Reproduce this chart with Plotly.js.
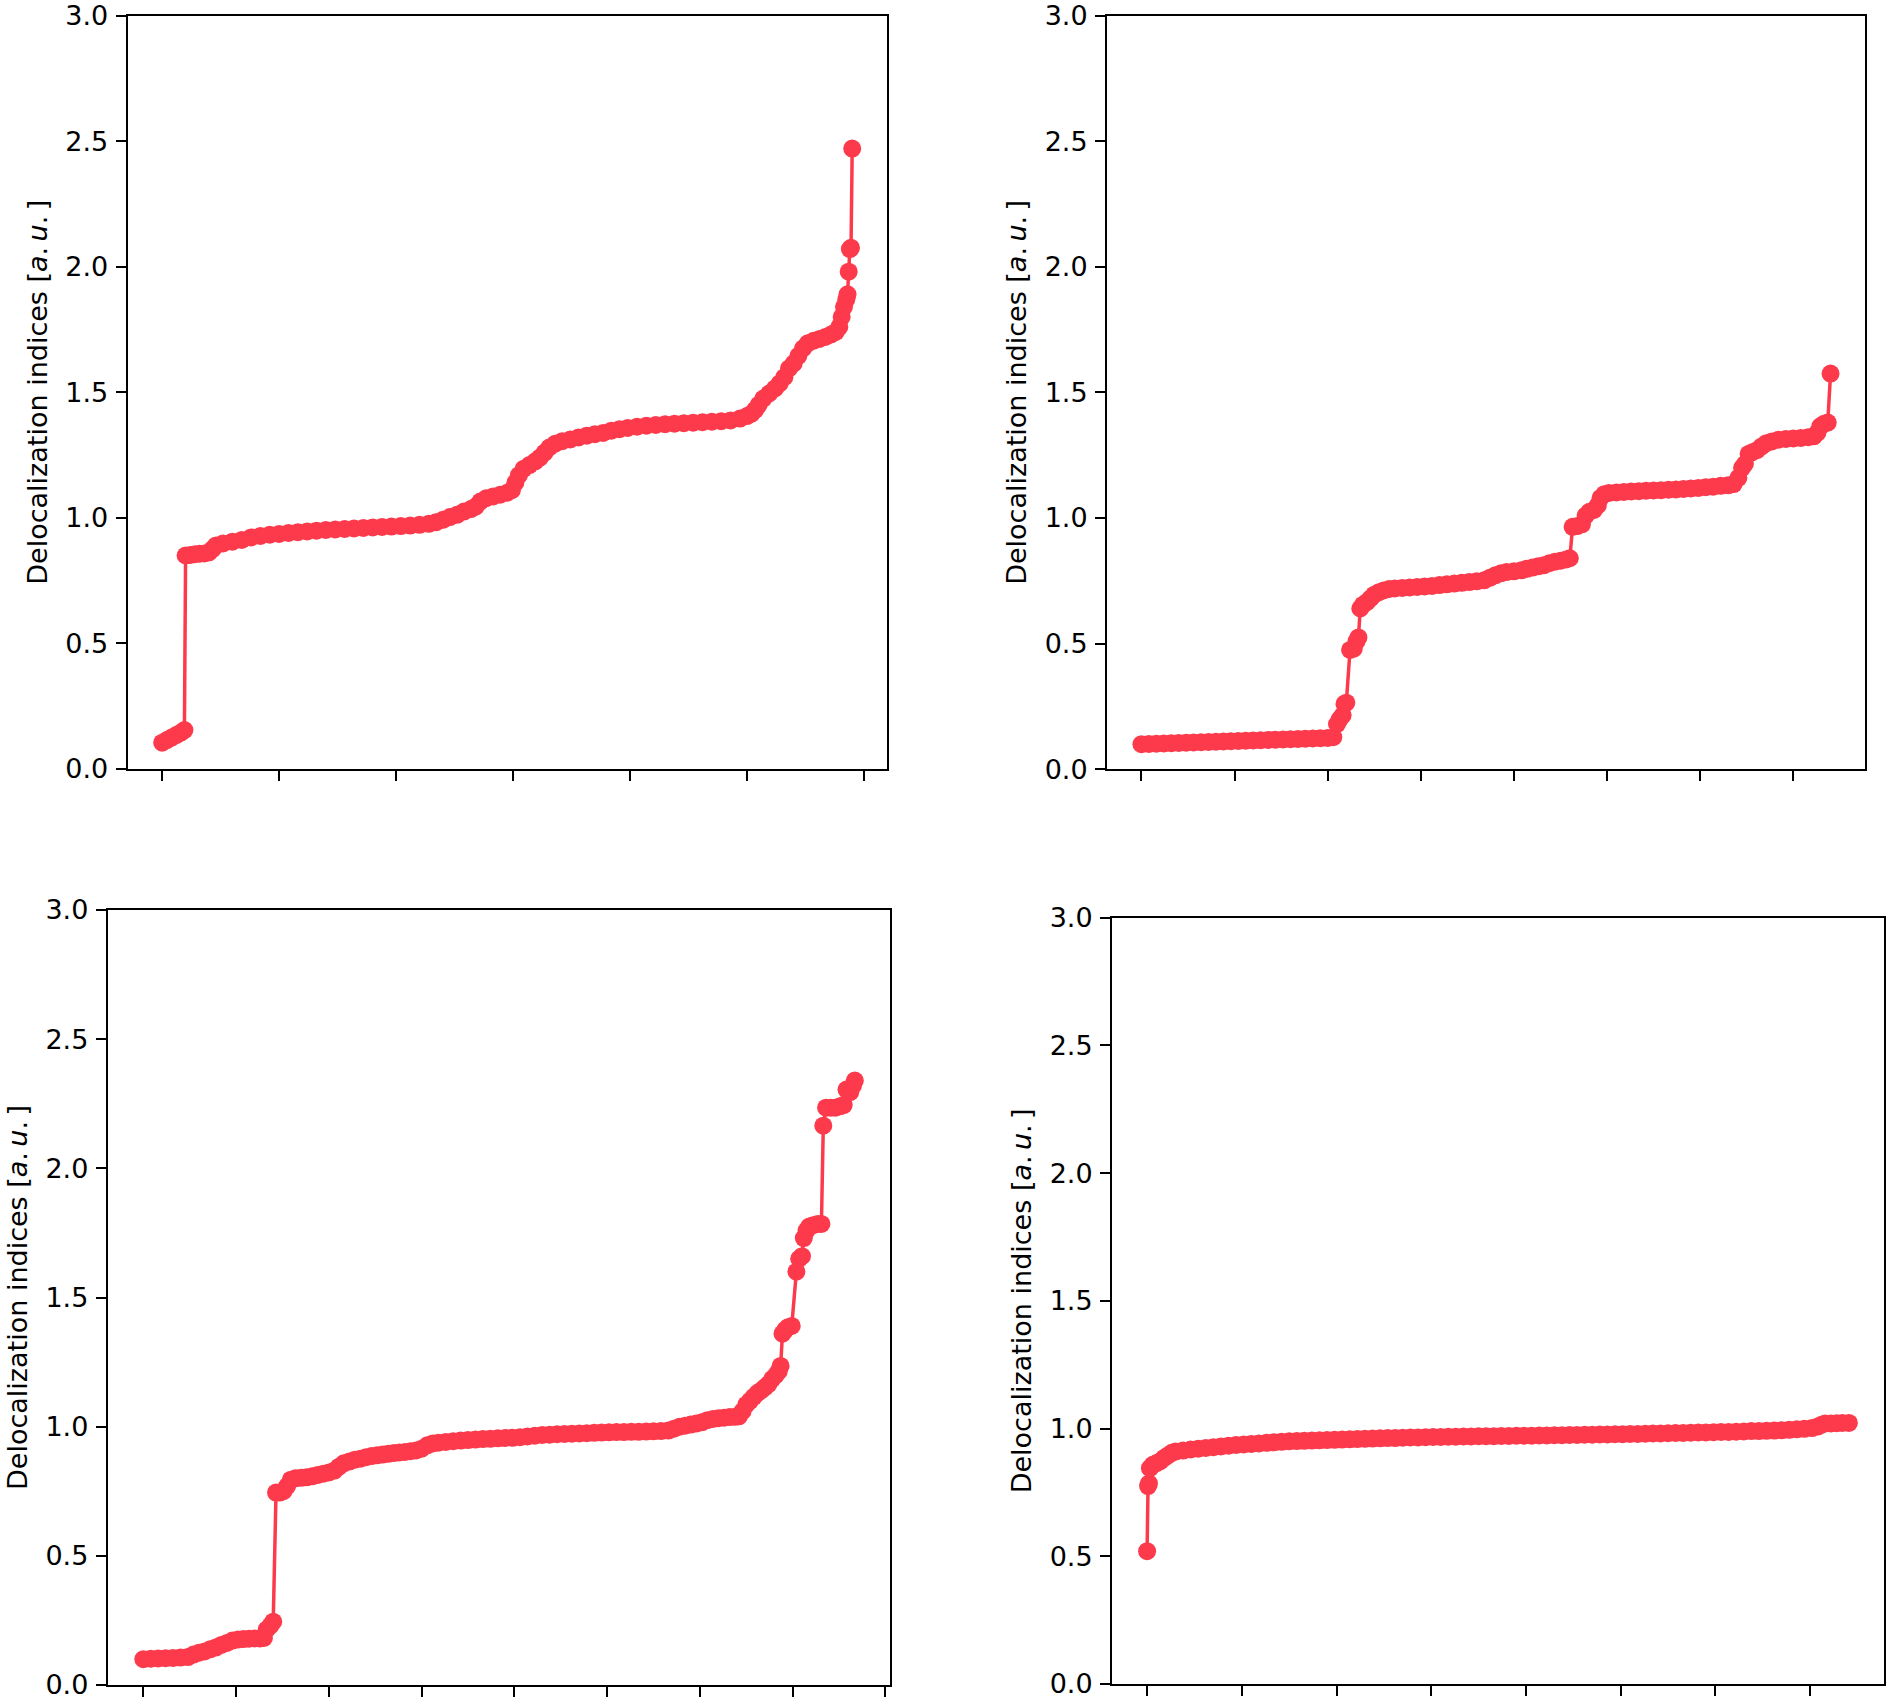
<!DOCTYPE html>
<html>
<head>
<meta charset="utf-8">
<script src="https://cdn.plot.ly/plotly-3.0.1.min.js"></script>
<style>
  html, body { margin: 0; padding: 0; background: #fff; }
  #chart { width: 1890px; height: 1699px; }
</style>
</head>
<body>
<div id="chart"></div>
<script>
// ---- Data (sorted pair index, delocalization index) ----
const tlIdx = [0, 4, 8, 12, 16, 19, 20, 24, 28, 32, 36, 40, 43, 46, 52, 60, 68, 76, 84, 92, 100, 108, 116, 124, 132, 140, 148, 156, 164, 172, 180, 188, 196, 204, 212, 220, 228, 234, 240, 246, 252, 258, 264, 268, 272, 277, 283, 289, 295, 299, 302, 305, 309, 314, 319, 323, 327, 331, 336, 342, 349, 356, 363, 370, 377, 384, 391, 398, 406, 414, 422, 430, 438, 446, 454, 462, 470, 478, 486, 494, 500, 504, 507, 510, 514, 519, 524, 528, 532, 536, 540, 544, 548, 552, 557, 562, 567, 572, 576, 579, 581, 583, 585, 586, 587, 588, 589, 590];
const tlDI = [0.105, 0.115, 0.125, 0.135, 0.145, 0.155, 0.85, 0.852, 0.855, 0.857, 0.858, 0.862, 0.875, 0.89, 0.898, 0.905, 0.912, 0.922, 0.928, 0.933, 0.936, 0.94, 0.943, 0.946, 0.949, 0.952, 0.954, 0.956, 0.958, 0.96, 0.962, 0.964, 0.965, 0.967, 0.969, 0.972, 0.976, 0.982, 0.992, 1.003, 1.012, 1.025, 1.035, 1.045, 1.065, 1.078, 1.085, 1.092, 1.1, 1.11, 1.14, 1.17, 1.195, 1.21, 1.225, 1.24, 1.26, 1.28, 1.295, 1.305, 1.312, 1.32, 1.327, 1.333, 1.338, 1.347, 1.353, 1.358, 1.363, 1.367, 1.37, 1.373, 1.375, 1.377, 1.379, 1.381, 1.383, 1.385, 1.388, 1.395, 1.405, 1.415, 1.43, 1.45, 1.475, 1.495, 1.515, 1.535, 1.56, 1.595, 1.615, 1.645, 1.675, 1.695, 1.705, 1.712, 1.72, 1.73, 1.74, 1.76, 1.8, 1.84, 1.87, 1.89, 1.98, 2.07, 2.075, 2.47];

const trIdx = [0, 8, 16, 24, 32, 40, 48, 56, 64, 72, 80, 88, 96, 104, 112, 120, 128, 136, 144, 152, 160, 168, 176, 184, 192, 200, 206, 210, 213, 216, 218, 220, 224, 228, 231, 233, 235, 238, 242, 246, 250, 255, 260, 266, 272, 280, 288, 296, 304, 312, 320, 328, 336, 344, 352, 360, 368, 374, 380, 386, 392, 400, 408, 414, 420, 426, 432, 438, 444, 450, 456, 460, 463, 468, 473, 477, 481, 486, 490, 493, 497, 502, 510, 518, 526, 534, 542, 550, 558, 566, 574, 582, 590, 598, 606, 614, 622, 630, 636, 641, 645, 648, 652, 656, 661, 666, 671, 677, 684, 692, 700, 708, 716, 722, 726, 729, 733, 737, 740];
const trDI = [0.1, 0.101, 0.102, 0.103, 0.104, 0.105, 0.106, 0.107, 0.108, 0.109, 0.11, 0.111, 0.112, 0.113, 0.114, 0.115, 0.116, 0.117, 0.118, 0.119, 0.12, 0.121, 0.122, 0.123, 0.124, 0.125, 0.128, 0.18, 0.2, 0.215, 0.26, 0.265, 0.475, 0.48, 0.51, 0.525, 0.64, 0.655, 0.665, 0.68, 0.695, 0.705, 0.712, 0.718, 0.72, 0.722, 0.724, 0.726, 0.728, 0.73, 0.733, 0.736, 0.739, 0.742, 0.745, 0.748, 0.752, 0.762, 0.772, 0.78, 0.785, 0.788, 0.792, 0.798, 0.803, 0.808, 0.812, 0.82, 0.826, 0.83, 0.835, 0.84, 0.965, 0.968, 0.975, 1.01, 1.025, 1.032, 1.05, 1.08, 1.095, 1.1, 1.102, 1.104, 1.106, 1.107, 1.109, 1.11, 1.111, 1.113, 1.114, 1.116, 1.118, 1.12, 1.123, 1.125, 1.128, 1.13, 1.135, 1.16, 1.2, 1.215, 1.255, 1.262, 1.27, 1.285, 1.298, 1.305, 1.312, 1.315, 1.317, 1.319, 1.322, 1.325, 1.34, 1.365, 1.375, 1.38, 1.575];

const blIdx = [0, 8, 16, 24, 32, 40, 48, 54, 60, 66, 72, 78, 84, 90, 96, 102, 108, 114, 120, 126, 130, 133, 137, 140, 143, 147, 151, 155, 159, 164, 170, 176, 182, 188, 194, 200, 206, 211, 216, 222, 228, 234, 240, 246, 252, 258, 264, 270, 276, 282, 288, 294, 300, 306, 312, 318, 326, 334, 342, 350, 358, 366, 374, 382, 390, 398, 406, 414, 422, 430, 438, 446, 454, 462, 470, 478, 486, 494, 502, 510, 518, 526, 534, 542, 550, 558, 566, 572, 578, 584, 590, 596, 602, 608, 614, 620, 626, 632, 638, 642, 646, 650, 654, 658, 662, 666, 670, 674, 678, 682, 685, 687, 689, 692, 695, 699, 704, 707, 710, 712, 715, 718, 722, 727, 731, 733, 736, 741, 746, 751, 755, 758, 762, 765, 767];
const blDI = [0.1, 0.102, 0.103, 0.104, 0.105, 0.106, 0.108, 0.118, 0.125, 0.13, 0.138, 0.145, 0.155, 0.163, 0.172, 0.176, 0.178, 0.179, 0.18, 0.18, 0.182, 0.215, 0.23, 0.245, 0.745, 0.745, 0.75, 0.77, 0.795, 0.8, 0.802, 0.804, 0.808, 0.813, 0.818, 0.823, 0.83, 0.845, 0.858, 0.865, 0.872, 0.876, 0.882, 0.886, 0.889, 0.892, 0.895, 0.898, 0.9, 0.902, 0.905, 0.908, 0.915, 0.928, 0.935, 0.938, 0.941, 0.944, 0.946, 0.948, 0.95, 0.952, 0.953, 0.955, 0.956, 0.957, 0.959, 0.962, 0.965, 0.968, 0.969, 0.971, 0.972, 0.973, 0.974, 0.975, 0.976, 0.977, 0.978, 0.979, 0.979, 0.98, 0.98, 0.981, 0.982, 0.983, 0.985, 0.992, 1.0, 1.004, 1.008, 1.012, 1.017, 1.025, 1.03, 1.033, 1.035, 1.037, 1.038, 1.04, 1.06, 1.085, 1.1, 1.115, 1.13, 1.14, 1.152, 1.165, 1.185, 1.2, 1.215, 1.235, 1.36, 1.375, 1.385, 1.39, 1.6, 1.65, 1.66, 1.73, 1.76, 1.775, 1.78, 1.785, 1.785, 2.165, 2.235, 2.235, 2.235, 2.24, 2.245, 2.305, 2.295, 2.32, 2.34];

const brIdx = [0, 1, 2, 3, 6, 10, 14, 18, 22, 26, 30, 38, 46, 54, 62, 70, 78, 86, 94, 102, 110, 118, 126, 134, 142, 150, 158, 166, 174, 182, 190, 198, 206, 214, 222, 230, 238, 246, 254, 262, 270, 278, 286, 294, 302, 310, 318, 326, 334, 342, 350, 358, 366, 374, 382, 390, 398, 406, 414, 422, 430, 438, 446, 454, 462, 470, 478, 486, 494, 502, 510, 518, 526, 534, 542, 550, 558, 566, 574, 582, 590, 598, 606, 614, 622, 630, 638, 646, 654, 662, 670, 678, 686, 694, 702, 708, 712, 716, 722, 728, 734, 741];
const brDI = [0.52, 0.775, 0.785, 0.845, 0.858, 0.865, 0.872, 0.885, 0.895, 0.905, 0.91, 0.914, 0.918, 0.921, 0.924, 0.927, 0.93, 0.933, 0.936, 0.938, 0.94, 0.942, 0.944, 0.946, 0.948, 0.95, 0.951, 0.952, 0.953, 0.954, 0.955, 0.956, 0.957, 0.958, 0.959, 0.96, 0.961, 0.962, 0.963, 0.963, 0.964, 0.965, 0.965, 0.966, 0.967, 0.967, 0.968, 0.968, 0.969, 0.969, 0.97, 0.97, 0.97, 0.971, 0.971, 0.972, 0.972, 0.972, 0.973, 0.973, 0.974, 0.974, 0.975, 0.975, 0.976, 0.976, 0.977, 0.977, 0.978, 0.978, 0.979, 0.979, 0.98, 0.981, 0.981, 0.982, 0.983, 0.983, 0.984, 0.985, 0.985, 0.986, 0.987, 0.987, 0.988, 0.989, 0.99, 0.99, 0.991, 0.992, 0.993, 0.995, 0.997, 0.999, 1.002, 1.008, 1.015, 1.02, 1.02, 1.021, 1.022, 1.022];

const yTickVals = [0, 0.5, 1, 1.5, 2, 2.5, 3];
const yTickText = ['0.0', '0.5', '1.0', '1.5', '2.0', '2.5', '3.0'];
const yTitle = 'Delocalization indices [<i>a</i>.\u2009<i>u</i>.\u2009]';

// ---- Panel geometry (pixels in the 1890x1699 figure) ----
const W = 1890, H = 1699;
const panels = [
  { idx: tlIdx, di: tlDI, x0: 127.7, x1: 886.7, y0: 15.5, y1: 769 },
  { idx: trIdx, di: trDI, x0: 1107, x1: 1865, y0: 15.5, y1: 769.3 },
  { idx: blIdx, di: blDI, x0: 107.8, x1: 890.4, y0: 910, y1: 1685 },
  { idx: brIdx, di: brDI, x0: 1112, x1: 1884, y0: 917.7, y1: 1684 }
];

const RED = '#fd3a4c';
const FONT = { family: 'DejaVu Sans', size: 27, color: '#000' };

const traces = [];
const layout = {
  width: W,
  height: H,
  margin: { t: 0, r: 0, b: 0, l: 0 },
  paper_bgcolor: '#fff',
  plot_bgcolor: '#fff',
  showlegend: false,
  font: FONT
};

panels.forEach((p, i) => {
  const n = i === 0 ? '' : String(i + 1);
  const maxX = p.idx[p.idx.length - 1];

  traces.push({
    x: p.idx,
    y: p.di,
    xaxis: 'x' + n,
    yaxis: 'y' + n,
    type: 'scatter',
    mode: 'lines+markers',
    line: { color: RED, width: 3.5 },
    marker: { color: RED, size: 18 },
    hoverinfo: 'x+y'
  });

  layout['xaxis' + n] = {
    domain: [p.x0 / W, p.x1 / W],
    anchor: 'y' + n,
    range: [-0.05 * maxX, 1.05 * maxX],
    tick0: 0,
    dtick: 100,
    ticks: 'outside',
    ticklen: 10,
    tickwidth: 2,
    tickcolor: '#000',
    showticklabels: false,
    showgrid: false,
    zeroline: false,
    showline: true,
    linecolor: '#000',
    linewidth: 2,
    mirror: true
  };

  layout['yaxis' + n] = {
    domain: [1 - p.y1 / H, 1 - p.y0 / H],
    anchor: 'x' + n,
    range: [0, 3],
    tickvals: yTickVals,
    ticktext: yTickText,
    ticks: 'outside',
    ticklen: 10,
    tickwidth: 2,
    tickcolor: '#000',
    ticklabelstandoff: 2,
    ticklabeloverflow: 'allow',
    tickfont: FONT,
    showgrid: false,
    zeroline: false,
    showline: true,
    linecolor: '#000',
    linewidth: 2,
    mirror: true,
    title: { text: yTitle, font: FONT, standoff: 10 }
  };
});

Plotly.newPlot('chart', traces, layout, { displayModeBar: false, staticPlot: true });
</script>
</body>
</html>
